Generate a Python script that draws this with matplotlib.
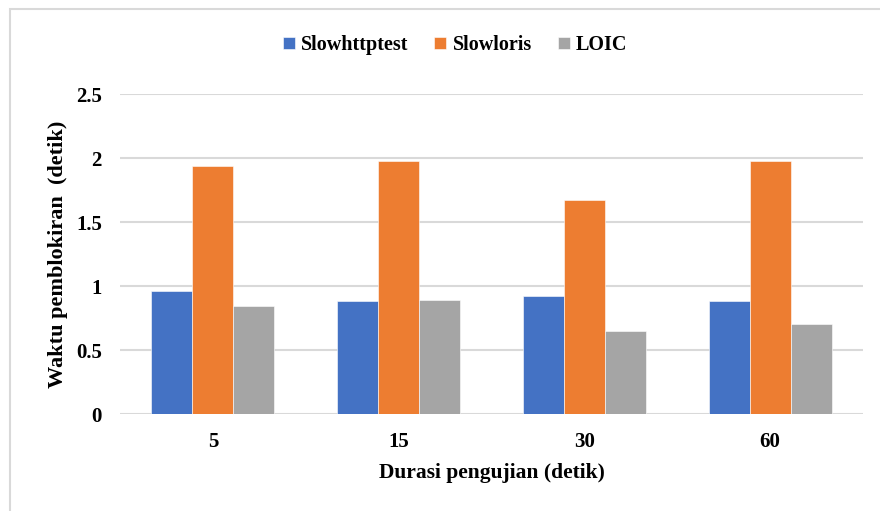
import matplotlib
matplotlib.use("Agg")
import matplotlib.pyplot as plt
import numpy as np
from matplotlib.patches import Rectangle

categories = ["5", "15", "30", "60"]
series_names = ["Slowhttptest", "Slowloris", "LOIC"]
slowhttptest = [0.96, 0.88, 0.92, 0.88]
slowloris = [1.94, 1.98, 1.67, 1.98]
loic = [0.84, 0.89, 0.65, 0.70]
colors = ["#4472C4", "#ED7D31", "#A5A5A5"]
yticks = [0, 0.5, 1, 1.5, 2, 2.5]
ytick_labels = ["0", "0.5", "1", "1.5", "2", "2.5"]

plt.rcParams['font.family'] = ['Liberation Serif', 'DejaVu Serif']
plt.rcParams['font.weight'] = 'bold'

fig = plt.figure(figsize=(8.8, 5.11), dpi=100)
ax = fig.add_axes([120/880, 1-414/511, 743/880, 320/511])

x = np.arange(len(categories))
w = 0.221
for i, (vals, name, c) in enumerate(zip([slowhttptest, slowloris, loic], series_names, colors)):
    ax.bar(x + (i-1)*w, vals, width=w, color=c, label=name, zorder=3,
           edgecolor='white', linewidth=0.4)

ax.set_xlim(-0.5, len(categories)-0.5)
ax.set_ylim(0, 2.5)
ax.set_yticks(yticks)
ax.set_yticklabels(ytick_labels)
ax.set_xticks(x)
ax.set_xticklabels(categories)
ax.tick_params(axis='both', length=0, labelsize=15)
ax.tick_params(axis='y', pad=13)
ax.tick_params(axis='x', pad=13)
for lbl in ax.get_xticklabels() + ax.get_yticklabels():
    lbl.set_fontweight('bold')
ax.grid(axis='y', color='#D9D9D9', linewidth=1.5, zorder=0)
for s in ax.spines.values():
    s.set_visible(False)

ax.set_xlabel("Durasi pengujian (detik)", fontsize=15.5, fontweight='bold', labelpad=8)
ax.set_ylabel("Waktu pemblokiran  (detik)", fontsize=16, fontweight='bold', labelpad=6)

leg = fig.legend(loc='center', bbox_to_anchor=(455/880, 1-45/511), ncol=3, frameon=False,
                 prop={'size': 14.5, 'weight': 'bold'}, handlelength=0.6, handleheight=0.6,
                 handletextpad=0.3, columnspacing=1.3)

fig.patches.append(Rectangle((10/880, -0.05), 1.0, 1-9/511+0.05, transform=fig.transFigure,
                             fill=False, edgecolor='#D9D9D9', linewidth=1.5))

fig.savefig("out.png", dpi=100)
